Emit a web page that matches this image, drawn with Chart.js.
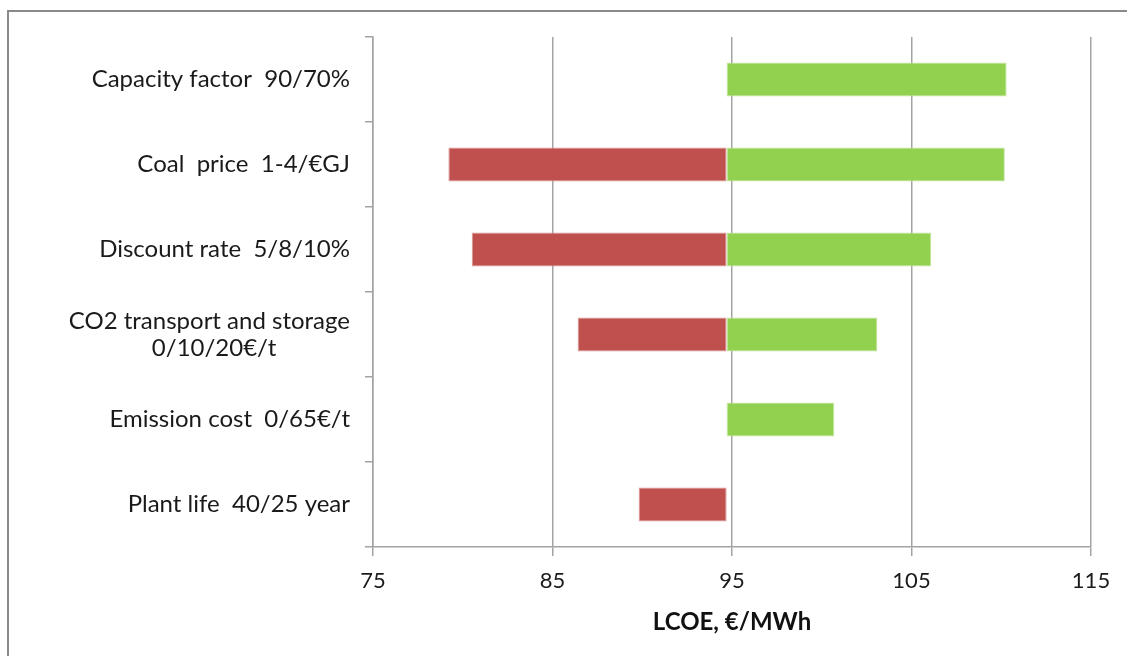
<!DOCTYPE html>
<html>
<head>
<meta charset="utf-8">
<title>LCOE sensitivity</title>
<script src="https://cdn.jsdelivr.net/npm/chart.js@4.4.1/dist/chart.umd.min.js"></script>
<style>
  html, body { margin: 0; padding: 0; background: #fff; overflow: hidden; }
  #frame {
    position: absolute; left: 7px; top: 10px;
    width: 1200px; height: 700px;
    border: 2px solid #8a8a8a; box-sizing: border-box;
  }
  #wrap { position: absolute; left: 0; top: 0; width: 1127px; height: 656px; }
</style>
</head>
<body>
<div id="frame"></div>
<div id="wrap"><canvas id="chart" width="1127" height="656"></canvas></div>
<script>
// Sensitivity of the levelised cost of electricity to key assumptions
const categories = [
  ['Capacity factor  90/70%'],
  ['Coal  price  1-4/€GJ'],
  ['Discount rate  5/8/10%'],
  ['CO2 transport and storage', '0/10/20€/t'],
  ['Emission cost  0/65€/t'],
  ['Plant life  40/25 year']
];
const baseCase = 94.7;                                   // €/MWh
const lowValues  = [null, 79.2, 80.5, 86.4, null, 89.8]; // favourable end
const highValues = [110.3, 110.2, 106.1, 103.1, 100.7, null]; // unfavourable end
const xTicks = [75, 85, 95, 105, 115];

const FONT = 'Lato';
const LABEL_SIZE = 24;
const AXIS = '#a3a3a3';

// Second lines of wrapped labels are centred under the first line;
// labels are right-aligned, so pad with trailing spaces.
const mctx = document.createElement('canvas').getContext('2d');
function centreLines(lines) {
  if (lines.length < 2) return lines[0];
  mctx.font = LABEL_SIZE + 'px ' + FONT;
  const w0 = mctx.measureText(lines[0]).width;
  return lines.map((s, i) => {
    if (i === 0) return s;
    const target = (w0 + mctx.measureText(s).width) / 2;
    let t = s;
    while (mctx.measureText(t + ' ').width <= target + 1) t += ' ';
    return t;
  });
}

function toRange(values, fromBase) {
  return values.map(v => v == null ? null : (fromBase ? [baseCase, v] : [v, baseCase]));
}

function draw() {
  const labels = categories.map(centreLines);
  new Chart(document.getElementById('chart'), {
    type: 'bar',
    data: {
      labels: labels,
      datasets: [
        {
          label: 'Lower',
          data: toRange(lowValues, false),
          backgroundColor: '#c0504d',
          borderColor: '#d99694',
          borderWidth: 1,
          borderSkipped: false
        },
        {
          label: 'Higher',
          data: toRange(highValues, true),
          backgroundColor: '#92d050',
          borderColor: '#c3e6a0',
          borderWidth: 1,
          borderSkipped: false
        }
      ]
    },
    options: {
      indexAxis: 'y',
      responsive: false,
      animation: false,
      grouped: false,
      barPercentage: 0.4,
      categoryPercentage: 1.0,
      layout: { padding: { top: 37, right: 36, bottom: 0, left: 0 } },
      plugins: { legend: { display: false }, tooltip: { enabled: false } },
      scales: {
        x: {
          type: 'linear',
          min: 75, max: 115,
          afterBuildTicks: s => { s.ticks = xTicks.map(v => ({ value: v })); },
          afterFit: s => { s.height = 109; },
          grid: { color: AXIS, lineWidth: 1.5, tickLength: 9 },
          border: { color: AXIS, width: 1.5 },
          ticks: {
            color: '#1a1a1a', padding: 12,
            font: { family: FONT, size: 22 }
          },
          title: {
            display: true, text: 'LCOE, €/MWh', color: '#111',
            font: { family: FONT, size: 24, weight: 'bold' },
            padding: { top: 0, bottom: 19 }
          }
        },
        y: {
          type: 'category',
          afterFit: s => { s.width = 373; },
          grid: { offset: true, drawOnChartArea: false, color: AXIS, lineWidth: 1.5, tickLength: 8 },
          border: { color: AXIS, width: 1.5 },
          ticks: {
            color: '#1a1a1a', padding: 15,
            font: { family: FONT, size: LABEL_SIZE, lineHeight: 1.12 }
          }
        }
      }
    }
  });
}

if (document.fonts && document.fonts.load) {
  Promise.all([
    document.fonts.load(LABEL_SIZE + 'px ' + FONT),
    document.fonts.load('bold 24px ' + FONT)
  ]).then(draw, draw);
} else {
  draw();
}
</script>
</body>
</html>
